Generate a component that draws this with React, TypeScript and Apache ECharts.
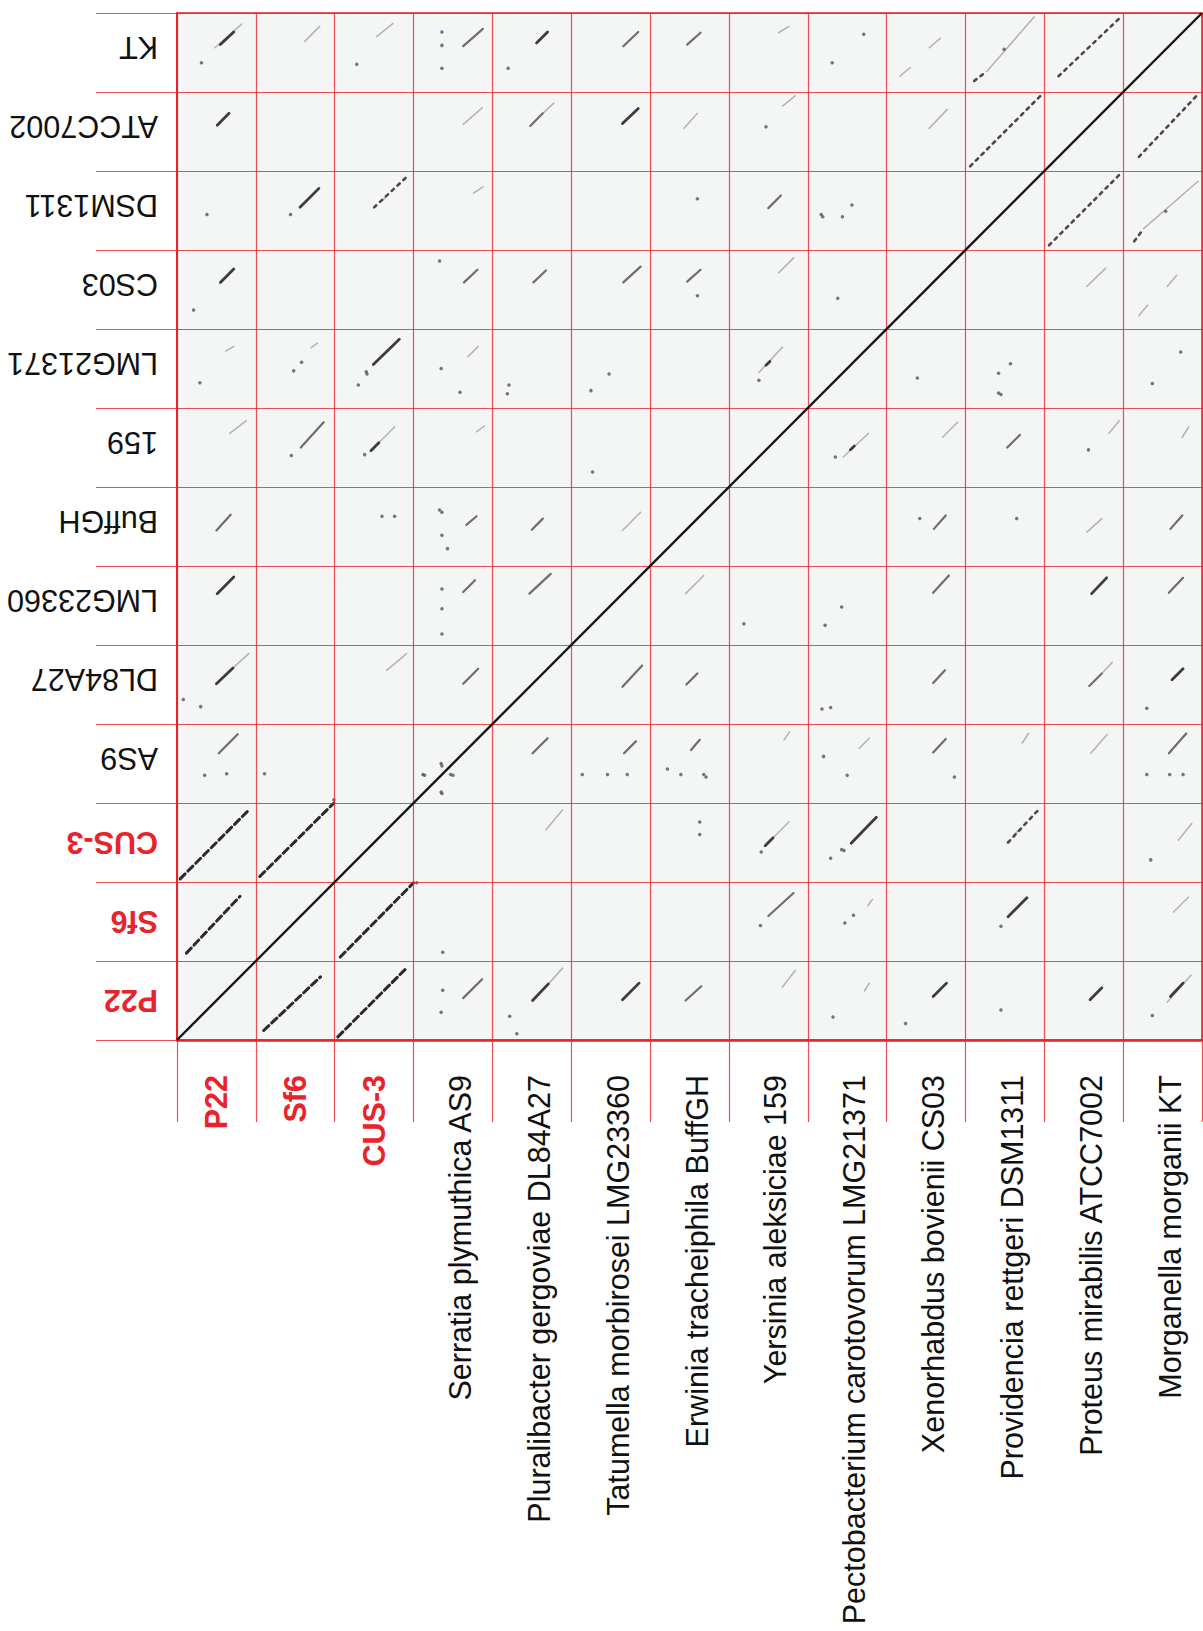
import React, { useEffect, useRef } from "react";
import * as echarts from "echarts";

// ---- Labels ----
const leftLabels = ["P22", "Sf6", "CUS-3", "AS9", "DL84A27", "LMG23360", "BuffGH", "159", "LMG21371", "CS03", "DSM1311", "ATCC7002", "KT"];
const bottomLabels = [
  "P22", "Sf6", "CUS-3",
  "Serratia plymuthica AS9",
  "Pluralibacter gergoviae DL84A27",
  "Tatumella morbirosei LMG23360",
  "Erwinia tracheiphila BuffGH",
  "Yersinia aleksiciae 159",
  "Pectobacterium carotovorum LMG21371",
  "Xenorhabdus bovienii CS03",
  "Providencia rettgeri DSM1311",
  "Proteus mirabilis ATCC7002",
  "Morganella morganii KT",
];
const phageFlags = [true, true, true, false, false, false, false, false, false, false, false, false, false];

// ---- Dot-plot matches: [genomeA, genomeB, fracA0, fracB0, fracA1, fracB1] (genome index, position within genome 0..1) ----
const strongPairs = [
  [0, 1, 0.12, 0.10, 0.80, 0.82],
  [0, 2, 0.04, 0.04, 0.92, 0.92],
  [1, 2, 0.05, 0.07, 0.99, 1.0],
];
const dottedPairs = [
  [10, 11, 0.06, 0.06, 0.95, 0.95],
  [11, 12, 0.18, 0.20, 0.95, 0.93],
  [2, 10, 0.50, 0.54, 0.94, 0.95],
  [10, 12, 0.11, 0.14, 0.27, 0.26],
];
const darkPairs = [
  [0, 4, 0.50, 0.51, 0.71, 0.71],
  [0, 5, 0.51, 0.65, 0.72, 0.86],
  [0, 11, 0.51, 0.58, 0.66, 0.73],
  [0, 12, 0.55, 0.60, 0.72, 0.76],
  [0, 9, 0.55, 0.59, 0.72, 0.76],
  [1, 10, 0.56, 0.54, 0.80, 0.78],
  [2, 8, 0.49, 0.55, 0.82, 0.87],
  [5, 11, 0.65, 0.60, 0.85, 0.79],
  [4, 12, 0.56, 0.62, 0.70, 0.76],
  [2, 7, 0.46, 0.46, 0.56, 0.56],
  [7, 8, 0.47, 0.54, 0.52, 0.59],
];
const mediumPairs = [
  [0, 3, 0.53, 0.63, 0.77, 0.87],
  [0, 6, 0.50, 0.45, 0.68, 0.65],
  [3, 4, 0.63, 0.51, 0.82, 0.70],
  [3, 5, 0.63, 0.67, 0.78, 0.82],
  [4, 5, 0.47, 0.65, 0.74, 0.90],
  [3, 6, 0.67, 0.52, 0.80, 0.63],
  [4, 6, 0.50, 0.46, 0.64, 0.60],
  [1, 7, 0.57, 0.50, 0.86, 0.82],
  [3, 9, 0.64, 0.59, 0.81, 0.75],
  [5, 9, 0.66, 0.59, 0.88, 0.79],
  [6, 9, 0.47, 0.60, 0.64, 0.75],
  [4, 9, 0.52, 0.59, 0.68, 0.74],
  [7, 10, 0.50, 0.53, 0.66, 0.69],
  [5, 12, 0.66, 0.58, 0.85, 0.76],
  [6, 12, 0.47, 0.60, 0.64, 0.75],
  [4, 11, 0.48, 0.57, 0.64, 0.73],
  [3, 12, 0.63, 0.58, 0.88, 0.80],
];
const faintPairs = [
  [0, 12, 0.48, 0.56, 0.82, 0.86],
  [1, 12, 0.62, 0.64, 0.81, 0.83],
  [2, 12, 0.53, 0.70, 0.74, 0.87],
  [7, 12, 0.63, 0.75, 0.76, 0.83],
  [9, 12, 0.54, 0.56, 0.68, 0.68],
  [9, 12, 0.17, 0.20, 0.30, 0.31],
  [10, 12, 0.27, 0.26, 0.87, 0.95],
  [3, 11, 0.63, 0.59, 0.87, 0.80],
  [4, 11, 0.64, 0.73, 0.78, 0.86],
  [6, 11, 0.43, 0.54, 0.60, 0.73],
  [7, 11, 0.68, 0.82, 0.84, 0.95],
  [9, 11, 0.54, 0.54, 0.77, 0.78],
  [3, 10, 0.76, 0.72, 0.88, 0.80],
  [7, 9, 0.63, 0.71, 0.82, 0.90],
  [3, 8, 0.69, 0.65, 0.82, 0.78],
  [1, 8, 0.70, 0.76, 0.78, 0.82],
  [0, 8, 0.62, 0.72, 0.72, 0.78],
  [0, 7, 0.67, 0.68, 0.88, 0.84],
  [3, 7, 0.80, 0.70, 0.90, 0.77],
  [2, 7, 0.56, 0.56, 0.76, 0.76],
  [7, 8, 0.38, 0.45, 0.68, 0.77],
  [5, 6, 0.65, 0.45, 0.88, 0.68],
  [2, 4, 0.66, 0.68, 0.91, 0.89],
  [0, 4, 0.71, 0.71, 0.91, 0.89],
  [2, 10, 0.60, 0.62, 0.66, 0.68],
];
// [genomeA, genomeB, fracA, fracB]
const dotPairs = [
  [0, 12, 0.31, 0.37], [2, 12, 0.28, 0.35], [8, 12, 0.71, 0.73], [8, 12, 0.31, 0.37],
  [10, 12, 0.49, 0.54], [4, 12, 0.20, 0.30], [7, 11, 0.47, 0.56], [1, 10, 0.44, 0.45],
  [6, 10, 0.60, 0.65], [8, 10, 0.56, 0.57], [8, 10, 0.17, 0.45], [0, 10, 0.38, 0.45],
  [0, 9, 0.21, 0.24], [6, 9, 0.60, 0.42], [3, 9, 0.33, 0.86], [0, 8, 0.29, 0.32],
  [1, 8, 0.58, 0.58], [1, 8, 0.48, 0.47], [2, 8, 0.40, 0.46], [3, 8, 0.35, 0.50],
  [3, 8, 0.59, 0.20], [5, 8, 0.48, 0.43], [5, 8, 0.25, 0.22], [7, 8, 0.38, 0.35],
  [8, 9, 0.38, 0.39], [8, 10, 0.44, 0.42], [8, 10, 0.19, 0.42], [1, 7, 0.45, 0.40],
  [2, 7, 0.38, 0.41], [5, 7, 0.27, 0.19], [2, 6, 0.60, 0.63], [2, 6, 0.76, 0.63],
  [3, 6, 0.33, 0.71], [0, 4, 0.08, 0.31], [0, 4, 0.30, 0.22], [0, 3, 0.63, 0.37],
  [0, 3, 0.35, 0.35], [1, 3, 0.11, 0.37], [3, 5, 0.36, 0.14], [3, 5, 0.36, 0.46],
  [3, 5, 0.36, 0.71], [3, 6, 0.43, 0.22], [3, 6, 0.36, 0.68], [3, 6, 0.36, 0.39],
  [2, 8, 0.41, 0.43], [2, 8, 0.30, 0.29], [4, 8, 0.19, 0.18], [4, 8, 0.21, 0.29],
  [3, 12, 0.36, 0.30], [3, 12, 0.36, 0.59], [3, 12, 0.36, 0.76], [3, 3, 0.35, 0.50],
  [3, 3, 0.35, 0.14], [3, 3, 0.47, 0.36], [3, 3, 0.12, 0.36], [1, 2, 0.99, 1.04],
];
const diagonal = [[0, 0, 1, 1]];

const RED = "#e8232b";
const FONT = "'Liberation Sans', Arial, Helvetica, sans-serif";

function mirrorSegments(pairs: number[][]) {
  const out: any[] = [];
  pairs.forEach(([a, b, fa0, fb0, fa1, fb1]) => {
    out.push({ coords: [[a + fa0, b + fb0], [a + fa1, b + fb1]] });
    if (a !== b) out.push({ coords: [[b + fb0, a + fa0], [b + fb1, a + fa1]] });
  });
  return out;
}
function mirrorDots(pairs: number[][]) {
  const out: number[][] = [];
  pairs.forEach(([a, b, fa, fb]) => {
    out.push([a + fa, b + fb]);
    out.push([b + fb, a + fa]);
  });
  return out;
}

function segSeries(name: string, pairs: number[][], color: string, width: number, type: any) {
  return {
    name,
    type: "lines",
    coordinateSystem: "cartesian2d",
    xAxisIndex: 1,
    yAxisIndex: 1,
    polyline: false,
    silent: true,
    lineStyle: { color, width, type, cap: "round", opacity: 1, curveness: 0 },
    data: mirrorSegments(pairs),
    z: 3,
  };
}

export default function App() {
  const ref = useRef<HTMLDivElement>(null);
  useEffect(() => {
    document.body.style.margin = "0";
    const chart = echarts.init(ref.current!, null, { renderer: "svg" });
    const xCat = bottomLabels.map((v, i) =>
      phageFlags[i] ? { value: v, textStyle: { color: RED, fontWeight: "bold" } } : { value: v }
    );
    const yCat = leftLabels.map((v, i) =>
      phageFlags[i] ? { value: v, textStyle: { color: RED, fontWeight: "bold" } } : { value: v }
    );
    const gridLine = { color: RED, width: 1.2, opacity: 0.8 };
    chart.setOption({
      animation: false,
      backgroundColor: "#ffffff",
      grid: {
        left: 177,
        top: 13,
        width: 1025,
        height: 1027,
        show: true,
        backgroundColor: "#f4f5f5",
        borderColor: RED,
        borderWidth: 1.5,
        containLabel: false,
        outerBoundsMode: "none",
      },
      xAxis: [
        {
          type: "category",
          data: xCat,
          position: "bottom",
          boundaryGap: true,
          axisLine: { show: true, lineStyle: { color: RED, width: 2.5 } },
          axisTick: { show: true, interval: 0, length: 82, lineStyle: gridLine },
          splitLine: { show: true, interval: 0, lineStyle: gridLine },
          axisLabel: {
            interval: 0,
            rotate: 90,
            margin: 35,
            fontSize: 30.5,
            fontFamily: FONT,
            color: "#111",
            align: "right",
            verticalAlign: "top",
            lineHeight: 14,
            hideOverlap: false,
          },
          z: 4,
        },
        { type: "value", min: 0, max: 13, show: false },
      ],
      yAxis: [
        {
          type: "category",
          data: yCat,
          position: "left",
          boundaryGap: true,
          axisLine: { show: true, lineStyle: { color: RED, width: 2 } },
          axisTick: { show: true, interval: 0, length: 81, lineStyle: gridLine },
          splitLine: { show: true, interval: 0, lineStyle: gridLine },
          axisLabel: {
            interval: 0,
            rotate: 180,
            margin: 19,
            fontSize: 30.5,
            fontFamily: FONT,
            color: "#111",
            align: "left",
            verticalAlign: "top",
            lineHeight: 10,
            hideOverlap: false,
          },
          z: 4,
        },
        { type: "value", min: 0, max: 13, show: false },
      ],
      series: [
        segSeries("faint", faintPairs, "#b4b4b4", 1.6, "solid"),
        segSeries("medium", mediumPairs, "#6e6e6e", 2.2, "solid"),
        segSeries("dark", darkPairs, "#3c3c3c", 2.8, "solid"),
        segSeries("dotted", dottedPairs, "#4a4a4a", 2.6, [3, 5]),
        segSeries("strong", strongPairs, "#2a2a2a", 3, [7, 4]),
        {
          name: "dots",
          type: "scatter",
          xAxisIndex: 1,
          yAxisIndex: 1,
          symbol: "circle",
          symbolSize: 3.5,
          itemStyle: { color: "#555" },
          silent: true,
          data: mirrorDots(dotPairs),
          z: 3,
        },
        {
          name: "diagonal",
          type: "lines",
          coordinateSystem: "cartesian2d",
          xAxisIndex: 1,
          yAxisIndex: 1,
          silent: true,
          lineStyle: { color: "#151515", width: 2.4, type: "solid", opacity: 1 },
          data: diagonal.map(([x0, y0, x1, y1]) => ({ coords: [[x0 * 13, y0 * 13], [x1 * 13, y1 * 13]] })),
          z: 5,
        },
      ],
    });
    return () => chart.dispose();
  }, []);
  return <div ref={ref} style={{ width: 1203, height: 1631 }} />;
}
